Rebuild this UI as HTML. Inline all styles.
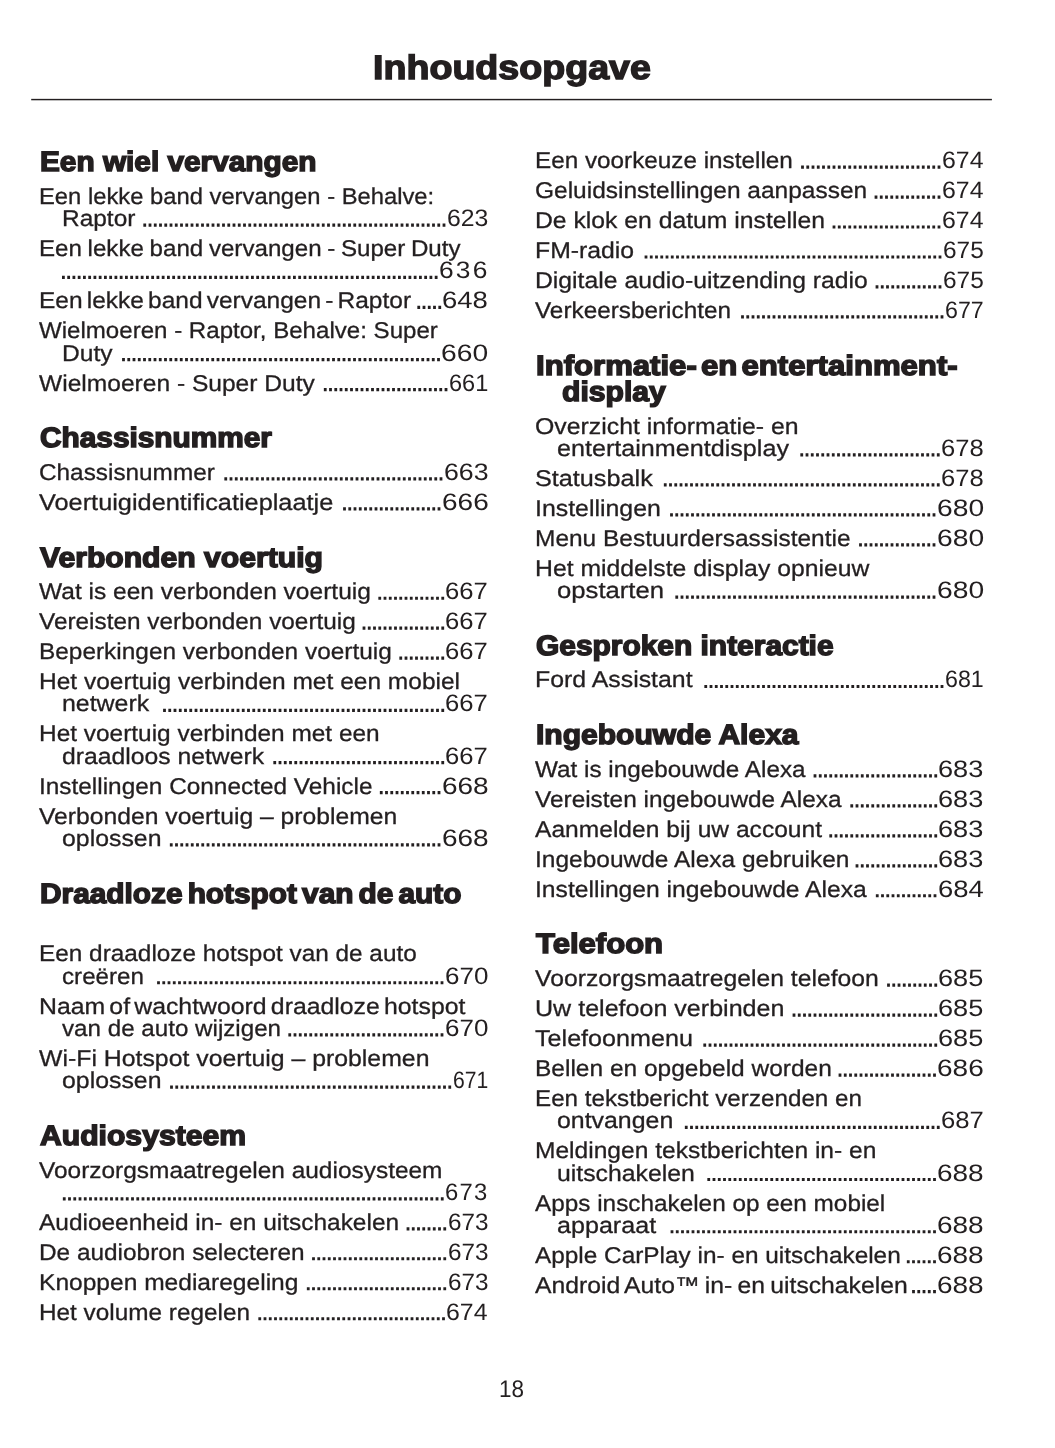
<!DOCTYPE html>
<html lang="nl"><head><meta charset="utf-8"><title>Inhoudsopgave</title>
<style>
html,body{margin:0;padding:0;background:#fff}
body{width:1055px;height:1448px;position:relative;overflow:hidden;font-family:"Liberation Sans",sans-serif;color:#231f20;text-rendering:geometricPrecision}
.s{position:absolute;white-space:nowrap;transform-origin:0 0;line-height:1;display:block}
.E{font-size:22.8px;-webkit-text-stroke:0.3px #231f20}
.N{font-size:23.8px}
.H{font-size:28px;font-weight:bold;-webkit-text-stroke:1.5px #231f20}
.T{font-size:34px;font-weight:bold;-webkit-text-stroke:1.4px #231f20}
.P{font-size:24px}
.dots{position:absolute;left:0;top:0}
.page{position:absolute;left:0;top:0;width:1055px;height:1448px;will-change:transform}
 h2{margin:0;padding:0;font-size:inherit;font-weight:normal}</style></head>
<body>
<div class="page">
<div class="hdr"><span class="s T" style="left:372.59px;top:50.86px;transform:scaleX(1.1064)">Inhoudsopgave</span></div>
<div class="col left">
<h2 class="row"><span class="s H" style="left:39.60px;top:148.21px;transform:scaleX(1.0639)">Een wiel vervangen</span></h2>
<div class="row"><span class="s E" style="left:39.00px;top:184.87px;transform:scaleX(1.0429)">Een lekke band vervangen - Behalve:</span></div>
<div class="row"><span class="s E" style="left:61.70px;top:207.12px;transform:scaleX(1.0730)">Raptor</span><span class="s N" style="left:446.74px;top:207.12px;transform:scaleX(1.0420)">623</span></div>
<div class="row"><span class="s E" style="left:39.00px;top:237.10px;transform:scaleX(1.0585);word-spacing:-1px">Een lekke band vervangen - Super Duty</span></div>
<div class="row"><span class="s N" style="left:438.80px;top:259.35px;transform:scaleX(1.1071);letter-spacing:2px">636</span></div>
<div class="row"><span class="s E" style="left:39.00px;top:289.33px;transform:scaleX(1.0749);word-spacing:-2.5px">Een lekke band vervangen - Raptor</span><span class="s N" style="left:442.34px;top:289.33px;transform:scaleX(1.1557)">648</span></div>
<div class="row"><span class="s E" style="left:39.00px;top:319.31px;transform:scaleX(1.0562)">Wielmoeren - Raptor, Behalve: Super</span></div>
<div class="row"><span class="s E" style="left:61.70px;top:341.56px;transform:scaleX(1.0783)">Duty</span><span class="s N" style="left:441.05px;top:341.56px;transform:scaleX(1.1861)">660</span></div>
<div class="row"><span class="s E" style="left:39.00px;top:371.54px;transform:scaleX(1.0777)">Wielmoeren - Super Duty</span><span class="s N" style="left:448.81px;top:371.54px;transform:scaleX(0.9895)">661</span></div>
<h2 class="row"><span class="s H" style="left:39.60px;top:424.24px;transform:scaleX(1.0646)">Chassisnummer</span></h2>
<div class="row"><span class="s E" style="left:39.00px;top:460.90px;transform:scaleX(1.0675)">Chassisnummer</span><span class="s N" style="left:443.63px;top:460.90px;transform:scaleX(1.1227)">663</span></div>
<div class="row"><span class="s E" style="left:39.00px;top:490.88px;transform:scaleX(1.1109)">Voertuigidentificatieplaatje</span><span class="s N" style="left:441.56px;top:490.88px;transform:scaleX(1.1764)">666</span></div>
<h2 class="row"><span class="s H" style="left:39.60px;top:543.58px;transform:scaleX(1.0760)">Verbonden voertuig</span></h2>
<div class="row"><span class="s E" style="left:39.00px;top:580.24px;transform:scaleX(1.0763)">Wat is een verbonden voertuig</span><span class="s N" style="left:445.44px;top:580.24px;transform:scaleX(1.0781)">667</span></div>
<div class="row"><span class="s E" style="left:39.00px;top:610.22px;transform:scaleX(1.0682)">Vereisten verbonden voertuig</span><span class="s N" style="left:445.44px;top:610.22px;transform:scaleX(1.0781)">667</span></div>
<div class="row"><span class="s E" style="left:39.00px;top:640.20px;transform:scaleX(1.0705)">Beperkingen verbonden voertuig</span><span class="s N" style="left:445.44px;top:640.20px;transform:scaleX(1.0781)">667</span></div>
<div class="row"><span class="s E" style="left:39.00px;top:670.17px;transform:scaleX(1.0753)">Het voertuig verbinden met een mobiel</span></div>
<div class="row"><span class="s E" style="left:61.70px;top:692.43px;transform:scaleX(1.0924)">netwerk</span><span class="s N" style="left:445.44px;top:692.43px;transform:scaleX(1.0781)">667</span></div>
<div class="row"><span class="s E" style="left:39.00px;top:722.41px;transform:scaleX(1.0710)">Het voertuig verbinden met een</span></div>
<div class="row"><span class="s E" style="left:61.70px;top:744.66px;transform:scaleX(1.0846)">draadloos netwerk</span><span class="s N" style="left:445.44px;top:744.66px;transform:scaleX(1.0781)">667</span></div>
<div class="row"><span class="s E" style="left:39.00px;top:774.64px;transform:scaleX(1.0696)">Instellingen Connected Vehicle</span><span class="s N" style="left:441.56px;top:774.64px;transform:scaleX(1.1758)">668</span></div>
<div class="row"><span class="s E" style="left:39.00px;top:804.62px;transform:scaleX(1.0829)">Verbonden voertuig – problemen</span></div>
<div class="row"><span class="s E" style="left:61.70px;top:826.87px;transform:scaleX(1.0901)">oplossen</span><span class="s N" style="left:441.56px;top:826.87px;transform:scaleX(1.1758)">668</span></div>
<h2 class="row"><span class="s H" style="left:39.60px;top:879.57px;transform:scaleX(1.0653);word-spacing:-3px">Draadloze hotspot van de auto</span></h2>
<div class="row"><span class="s E" style="left:39.00px;top:942.49px;transform:scaleX(1.0682)">Een draadloze hotspot van de auto</span></div>
<div class="row"><span class="s E" style="left:61.70px;top:964.74px;transform:scaleX(1.0605)">creëren</span><span class="s N" style="left:444.67px;top:964.74px;transform:scaleX(1.0923)">670</span></div>
<div class="row"><span class="s E" style="left:39.00px;top:994.72px;transform:scaleX(1.0886);word-spacing:-2.5px">Naam of wachtwoord draadloze hotspot</span></div>
<div class="row"><span class="s E" style="left:61.70px;top:1016.97px;transform:scaleX(1.0604)">van de auto wijzigen</span><span class="s N" style="left:444.67px;top:1016.97px;transform:scaleX(1.0923)">670</span></div>
<div class="row"><span class="s E" style="left:39.00px;top:1046.95px;transform:scaleX(1.0890)">Wi-Fi Hotspot voertuig – problemen</span></div>
<div class="row"><span class="s E" style="left:61.70px;top:1069.20px;transform:scaleX(1.0901)">oplossen</span><span class="s N" style="left:452.70px;top:1069.20px;transform:scaleX(0.8885)">671</span></div>
<h2 class="row"><span class="s H" style="left:39.60px;top:1121.90px;transform:scaleX(1.0764)">Audiosysteem</span></h2>
<div class="row"><span class="s E" style="left:39.00px;top:1158.56px;transform:scaleX(1.0720)">Voorzorgsmaatregelen audiosysteem</span></div>
<div class="row"><span class="s N" style="left:445.04px;top:1180.82px;transform:scaleX(1.0024);letter-spacing:1.2px">673</span></div>
<div class="row"><span class="s E" style="left:39.00px;top:1210.79px;transform:scaleX(1.0721)">Audioeenheid in- en uitschakelen</span><span class="s N" style="left:447.52px;top:1210.79px;transform:scaleX(1.0218)">673</span></div>
<div class="row"><span class="s E" style="left:39.00px;top:1240.77px;transform:scaleX(1.0692)">De audiobron selecteren</span><span class="s N" style="left:447.52px;top:1240.77px;transform:scaleX(1.0218)">673</span></div>
<div class="row"><span class="s E" style="left:39.00px;top:1270.75px;transform:scaleX(1.0772)">Knoppen mediaregeling</span><span class="s N" style="left:447.52px;top:1270.75px;transform:scaleX(1.0218)">673</span></div>
<div class="row"><span class="s E" style="left:39.00px;top:1300.73px;transform:scaleX(1.0672)">Het volume regelen</span><span class="s N" style="left:446.23px;top:1300.73px;transform:scaleX(1.0461)">674</span></div>
</div>
<div class="col right">
<div class="row"><span class="s E" style="left:535.00px;top:149.05px;transform:scaleX(1.0650)">Een voorkeuze instellen</span><span class="s N" style="left:941.73px;top:149.05px;transform:scaleX(1.0461)">674</span></div>
<div class="row"><span class="s E" style="left:535.00px;top:179.03px;transform:scaleX(1.0740)">Geluidsinstellingen aanpassen</span><span class="s N" style="left:941.73px;top:179.03px;transform:scaleX(1.0461)">674</span></div>
<div class="row"><span class="s E" style="left:535.00px;top:209.00px;transform:scaleX(1.0850)">De klok en datum instellen</span><span class="s N" style="left:941.73px;top:209.00px;transform:scaleX(1.0461)">674</span></div>
<div class="row"><span class="s E" style="left:535.00px;top:238.98px;transform:scaleX(1.0868)">FM-radio</span><span class="s N" style="left:942.76px;top:238.98px;transform:scaleX(1.0277)">675</span></div>
<div class="row"><span class="s E" style="left:535.00px;top:268.96px;transform:scaleX(1.0852)">Digitale audio-uitzending radio</span><span class="s N" style="left:942.76px;top:268.96px;transform:scaleX(1.0277)">675</span></div>
<div class="row"><span class="s E" style="left:535.00px;top:298.94px;transform:scaleX(1.0664)">Verkeersberichten</span><span class="s N" style="left:944.83px;top:298.94px;transform:scaleX(0.9770)">677</span></div>
<h2 class="row"><span class="s H" style="left:535.60px;top:351.64px;transform:scaleX(1.1113);word-spacing:-4px">Informatie- en entertainment-</span></h2>
<h2 class="row"><span class="s H" style="left:562.40px;top:378.40px;transform:scaleX(1.0753)">display</span></h2>
<div class="row"><span class="s E" style="left:534.70px;top:414.71px;transform:scaleX(1.0891)">Overzicht informatie- en</span></div>
<div class="row"><span class="s E" style="left:557.30px;top:436.96px;transform:scaleX(1.1027)">entertainmentdisplay</span><span class="s N" style="left:940.95px;top:436.96px;transform:scaleX(1.0750)">678</span></div>
<div class="row"><span class="s E" style="left:535.00px;top:466.94px;transform:scaleX(1.1060)">Statusbalk</span><span class="s N" style="left:940.95px;top:466.94px;transform:scaleX(1.0750)">678</span></div>
<div class="row"><span class="s E" style="left:535.00px;top:496.92px;transform:scaleX(1.0912)">Instellingen</span><span class="s N" style="left:936.55px;top:496.92px;transform:scaleX(1.1861)">680</span></div>
<div class="row"><span class="s E" style="left:535.00px;top:526.89px;transform:scaleX(1.0733)">Menu Bestuurdersassistentie</span><span class="s N" style="left:936.55px;top:526.89px;transform:scaleX(1.1861)">680</span></div>
<div class="row"><span class="s E" style="left:535.00px;top:556.87px;transform:scaleX(1.0858)">Het middelste display opnieuw</span></div>
<div class="row"><span class="s E" style="left:557.30px;top:579.12px;transform:scaleX(1.1264)">opstarten</span><span class="s N" style="left:936.55px;top:579.12px;transform:scaleX(1.1861)">680</span></div>
<h2 class="row"><span class="s H" style="left:535.60px;top:631.82px;transform:scaleX(1.0682)">Gesproken interactie</span></h2>
<div class="row"><span class="s E" style="left:535.00px;top:668.49px;transform:scaleX(1.0910)">Ford Assistant</span><span class="s N" style="left:944.83px;top:668.49px;transform:scaleX(0.9760)">681</span></div>
<h2 class="row"><span class="s H" style="left:535.60px;top:721.18px;transform:scaleX(1.0727)">Ingebouwde Alexa</span></h2>
<div class="row"><span class="s E" style="left:535.00px;top:757.85px;transform:scaleX(1.0657)">Wat is ingebouwde Alexa</span><span class="s N" style="left:938.35px;top:757.85px;transform:scaleX(1.1428)">683</span></div>
<div class="row"><span class="s E" style="left:535.00px;top:787.82px;transform:scaleX(1.0705)">Vereisten ingebouwde Alexa</span><span class="s N" style="left:938.35px;top:787.82px;transform:scaleX(1.1428)">683</span></div>
<div class="row"><span class="s E" style="left:535.00px;top:817.80px;transform:scaleX(1.0786)">Aanmelden bij uw account</span><span class="s N" style="left:938.35px;top:817.80px;transform:scaleX(1.1428)">683</span></div>
<div class="row"><span class="s E" style="left:535.00px;top:847.78px;transform:scaleX(1.0741)">Ingebouwde Alexa gebruiken</span><span class="s N" style="left:938.35px;top:847.78px;transform:scaleX(1.1428)">683</span></div>
<div class="row"><span class="s E" style="left:535.00px;top:877.76px;transform:scaleX(1.0816)">Instellingen ingebouwde Alexa</span><span class="s N" style="left:937.59px;top:877.76px;transform:scaleX(1.1527)">684</span></div>
<h2 class="row"><span class="s H" style="left:535.60px;top:930.46px;transform:scaleX(1.1089)">Telefoon</span></h2>
<div class="row"><span class="s E" style="left:535.00px;top:967.12px;transform:scaleX(1.0853)">Voorzorgsmaatregelen telefoon</span><span class="s N" style="left:938.36px;top:967.12px;transform:scaleX(1.1419)">685</span></div>
<div class="row"><span class="s E" style="left:535.00px;top:997.10px;transform:scaleX(1.0994)">Uw telefoon verbinden</span><span class="s N" style="left:938.36px;top:997.10px;transform:scaleX(1.1419)">685</span></div>
<div class="row"><span class="s E" style="left:535.00px;top:1027.08px;transform:scaleX(1.1025)">Telefoonmenu</span><span class="s N" style="left:938.36px;top:1027.08px;transform:scaleX(1.1419)">685</span></div>
<div class="row"><span class="s E" style="left:535.00px;top:1057.05px;transform:scaleX(1.0742)">Bellen en opgebeld worden</span><span class="s N" style="left:937.06px;top:1057.05px;transform:scaleX(1.1764)">686</span></div>
<div class="row"><span class="s E" style="left:535.00px;top:1087.03px;transform:scaleX(1.0617)">Een tekstbericht verzenden en</span></div>
<div class="row"><span class="s E" style="left:557.30px;top:1109.29px;transform:scaleX(1.0914)">ontvangen</span><span class="s N" style="left:940.94px;top:1109.29px;transform:scaleX(1.0781)">687</span></div>
<div class="row"><span class="s E" style="left:535.00px;top:1139.26px;transform:scaleX(1.0774)">Meldingen tekstberichten in- en</span></div>
<div class="row"><span class="s E" style="left:557.30px;top:1161.52px;transform:scaleX(1.0878)">uitschakelen</span><span class="s N" style="left:937.06px;top:1161.52px;transform:scaleX(1.1758)">688</span></div>
<div class="row"><span class="s E" style="left:535.00px;top:1191.50px;transform:scaleX(1.0671)">Apps inschakelen op een mobiel</span></div>
<div class="row"><span class="s E" style="left:557.30px;top:1213.75px;transform:scaleX(1.1012)">apparaat</span><span class="s N" style="left:937.06px;top:1213.75px;transform:scaleX(1.1758)">688</span></div>
<div class="row"><span class="s E" style="left:535.00px;top:1243.73px;transform:scaleX(1.0689)">Apple CarPlay in- en uitschakelen</span><span class="s N" style="left:937.06px;top:1243.73px;transform:scaleX(1.1758)">688</span></div>
<div class="row"><span class="s E" style="left:535.00px;top:1273.70px;transform:scaleX(1.0841);word-spacing:-1.5px">Android Auto™ in- en uitschakelen</span><span class="s N" style="left:937.06px;top:1273.70px;transform:scaleX(1.1758)">688</span></div>
</div>
<svg class="dots" width="1055" height="1448" viewBox="0 0 1055 1448"><rect x="31.2" y="98.85" width="960.7" height="1.45" fill="#231f20"/><path d="M445.40 225.12h-302.05M437.55 277.35h-375.55M441.15 307.33h-23.80M439.90 359.56h-317.80M447.40 389.54h-123.55M442.40 478.90h-218.05M440.40 508.88h-97.30M444.15 598.24h-65.80M444.15 628.22h-81.55M444.15 658.20h-44.80M444.15 710.43h-281.05M444.15 762.66h-170.80M440.40 792.64h-60.55M440.40 844.87h-270.55M443.40 982.74h-286.30M443.40 1034.97h-155.05M451.15 1087.20h-281.05M443.65 1198.82h-380.80M446.15 1228.79h-39.55M446.15 1258.77h-134.05M446.15 1288.75h-139.30M444.90 1318.73h-186.55M940.40 167.05h-139.30M940.40 197.03h-65.80M940.40 227.00h-107.80M941.40 256.98h-296.80M941.40 286.96h-65.80M943.40 316.94h-202.30M939.65 454.96h-139.30M939.65 484.94h-275.80M935.40 514.92h-265.30M935.40 544.89h-76.30M935.40 597.12h-260.05M943.40 686.49h-239.05M937.15 775.85h-123.55M937.15 805.82h-86.80M937.15 835.80h-107.80M937.15 865.78h-81.55M936.40 895.76h-60.55M937.15 985.12h-50.05M937.15 1015.10h-144.55M937.15 1045.08h-233.80M935.90 1075.05h-97.30M939.65 1127.29h-254.80M935.90 1179.52h-228.55M935.90 1231.75h-265.30M935.90 1261.73h-29.05M935.90 1291.70h-23.80" fill="none" stroke="#231f20" stroke-width="3.2" stroke-dasharray="2.8 2.45"/></svg>
<div class="ftr"><span class="s P" style="left:498.57px;top:1378.13px;transform:scaleX(0.9368)">18</span></div>
</div>
</body></html>
